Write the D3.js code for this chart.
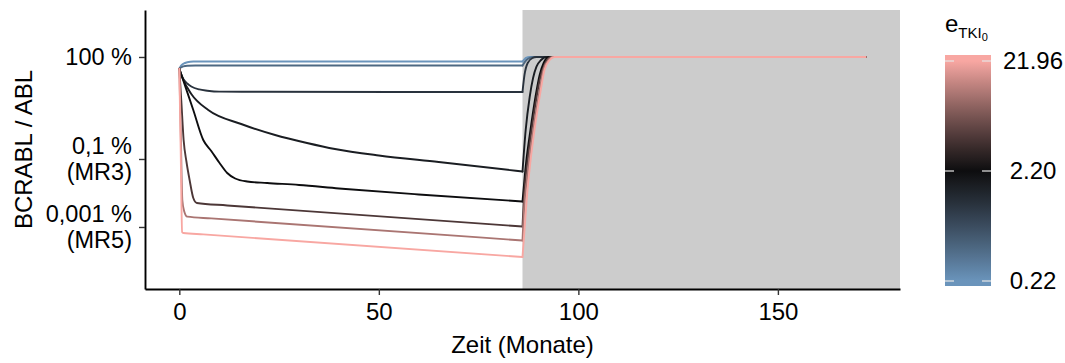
<!DOCTYPE html>
<html>
<head>
<meta charset="utf-8">
<script src="https://cdn.jsdelivr.net/npm/d3@7"></script>
<style>
  body { margin: 0; background: #fff; }
  svg { display: block; font-family: "Liberation Sans", Arial, sans-serif; }
</style>
</head>
<body>
<svg id="chart" width="1065" height="363"></svg>
<script>
// TKI efficacy of each simulated patient course
const eTKI = [0.2196, 0.4392, 1.098, 1.647, 2.196, 4.392, 10.98, 21.96];

// BCR-ABL/ABL ratio in percent, as [month, percent]; therapy stops at month 86
const courseE022 = [[0,45],[0.4,55],[1,63],[2,70],[3.5,73.5],[86,73.7],[86.5,86],[87,95],[87.8,99.5],[88.5,100],[172,100]];
const courseE044 = [[0,45],[0.5,50],[1,53],[2,55.5],[4,56.2],[86,56.2],[86.6,72],[87.3,87],[88,96],[89,100],[172,100]];
const courseE110 = [[0,45],[0.5,29.6],[1,22.5],[2,16.6],[3,13.6],[5,11.1],[7,10.2],[10,9.55],[20,9.45],[86,9.35],[86.5,29.6],[87.3,66.6],[88.5,93.5],[89.5,100],[172,100]];
const courseE165 = [[0,45],[1,21.1],[3,8.17],[7.25,2.76],[15.5,1.07],[24,0.508],[32,0.296],[39,0.197],[50,0.127],[65,0.0816],[86,0.0429],[86.8,0.713],[87.8,6.66],[88.65,24.1],[89.5,51.9],[90.65,81.6],[91.9,100],[172,100]];
const courseE220 = [[0,45],[1.5,13.6],[3.5,2.76],[6,0.362],[8,0.172],[10,0.0789],[12,0.0388],[14,0.0267],[17,0.0218],[22,0.0197],[30,0.0172],[40,0.0136],[60,0.00904],[86,0.00562],[86.9,0.0762],[88,0.713],[89.25,6.66],[90.3,29.6],[91.3,66.6],[92.6,100],[172,100]];
const courseE439 = [[0,45],[0.5,5.08],[1.08,0.362],[1.8,0.0816],[2.58,0.0241],[3.5,0.00713],[4.4,0.00508],[12,0.0043],[86,0.001035],[86.45,0.0107],[87.2,0.0762],[88.1,0.508],[89.2,3.88],[90.3,21.1],[91.6,62.2],[93.1,100],[172,100]];
const courseE1098 = [[0,45],[0.35,0.713],[0.75,0.00622],[1.2,0.00296],[2,0.00201],[8,0.00179],[86,0.000401],[86.45,0.00444],[87.1,0.0241],[87.8,0.131],[88.8,0.873],[90.1,7.63],[91.3,44.4],[92.6,84.4],[93.6,100],[172,100]];
const courseE2196 = [[0,45],[0.35,0.184],[0.7,0.000713],[1,0.000667],[6,0.000605],[86,0.000131],[86.5,0.000816],[87.1,0.00762],[87.95,0.0762],[89,0.713],[90.3,6.8],[91.5,41.5],[92.8,81.6],[94,100],[172,100]];

const courses = [courseE022, courseE044, courseE110, courseE165, courseE220, courseE439, courseE1098, courseE2196];

const stopMonth = 86;
const xTicks = [0, 50, 100, 150];
const yTicks = [100, 0.1, 0.001];
const yTickLabels = [["100 %"], ["0,1 %", "(MR3)"], ["0,001 %", "(MR5)"]];
const legendTicks = [0.2196, 2.196, 21.96];
const legendLabels = ["0.22", "2.20", "21.96"];

const svg = d3.select("#chart");
const panel = { left: 145, right: 900, top: 10, bottom: 289 };

const x = d3.scaleLinear().domain([-8.6, 180.6]).range([panel.left, panel.right]);
const y = d3.scaleLog().domain([Math.pow(10, -4.824), Math.pow(10, 3.382)]).range([panel.bottom, panel.top]);
const colour = d3.scaleLog()
  .domain([0.2196, 2.196, 21.96])
  .range(["#6a94bb", "#0d0d0f", "#f8a7a2"])
  .interpolate(d3.interpolateLab);

// shaded period after therapy stop
svg.append("rect")
  .attr("x", x(stopMonth))
  .attr("y", panel.top)
  .attr("width", panel.right - x(stopMonth))
  .attr("height", panel.bottom - panel.top)
  .attr("fill", "#cccccc");

// patient courses: therapy phase and relapse phase drawn as separate pieces
const line = d3.line()
  .x(d => x(d[0]))
  .y(d => y(d[1]))
  .curve(d3.curveMonotoneX);

const pieces = [];
courses.forEach((c, i) => {
  pieces.push({ i, pts: c.filter(d => d[0] <= stopMonth) });
  pieces.push({ i, pts: c.filter(d => d[0] >= stopMonth) });
});
pieces.sort((a, b) => a.i - b.i);

svg.append("g")
  .selectAll("path")
  .data(pieces)
  .join("path")
  .attr("d", d => line(d.pts))
  .attr("fill", "none")
  .attr("stroke", d => colour(eTKI[d.i]))
  .attr("stroke-width", 1.9)
  .attr("stroke-linejoin", "round")
  .attr("stroke-linecap", "round");

// axes
const xAxis = svg.append("g")
  .attr("transform", `translate(0,${panel.bottom})`)
  .call(d3.axisBottom(x).tickValues(xTicks).tickSize(6).tickSizeOuter(0).tickPadding(8));
const yAxis = svg.append("g")
  .attr("transform", `translate(${panel.left},0)`)
  .call(d3.axisLeft(y).tickValues(yTicks).tickSize(6).tickSizeOuter(0).tickFormat(() => ""));

[xAxis, yAxis].forEach(g => {
  g.select(".domain").attr("stroke", "#000").attr("stroke-width", 1.9);
  g.selectAll(".tick line").attr("stroke", "#333").attr("stroke-width", 1.4);
});
xAxis.selectAll(".tick text")
  .attr("font-size", 24).attr("fill", "#000")
  .attr("font-family", "Liberation Sans, Arial, sans-serif");

// multi-line y tick labels, one text element per line
const lineGap = 26;
yTicks.forEach((v, i) => {
  const lines = yTickLabels[i];
  lines.forEach((s, j) => {
    svg.append("text")
      .attr("text-anchor", "end")
      .attr("font-size", 23.5)
      .attr("fill", "#000")
      .attr("x", panel.left - 13)
      .attr("y", y(v) + (j - (lines.length - 1) / 2) * lineGap)
      .attr("dy", "0.35em")
      .text(s);
  });
});

// axis titles
svg.append("text")
  .attr("x", (panel.left + panel.right) / 2)
  .attr("y", 353)
  .attr("text-anchor", "middle")
  .attr("font-size", 24)
  .text("Zeit (Monate)");
svg.append("text")
  .attr("transform", `translate(32,${(panel.top + panel.bottom) / 2}) rotate(-90)`)
  .attr("text-anchor", "middle")
  .attr("font-size", 24)
  .text("BCRABL / ABL");

// colour legend
const bar = { left: 945, width: 46, top: 55, bottom: 286 };
const legendY = d3.scaleLog().domain([0.2196, 21.96]).range([281, 61]);

const defs = svg.append("defs");
const grad = defs.append("linearGradient")
  .attr("id", "eGrad")
  .attr("gradientUnits", "userSpaceOnUse")
  .attr("x1", 0).attr("x2", 0)
  .attr("y1", legendY(0.2196)).attr("y2", legendY(21.96));
d3.range(0, 1.0001, 0.05).forEach(p => {
  const v = Math.pow(10, Math.log10(0.2196) + p * 2);
  grad.append("stop").attr("offset", p).attr("stop-color", colour(v));
});

svg.append("rect")
  .attr("x", bar.left).attr("y", bar.top)
  .attr("width", bar.width).attr("height", bar.bottom - bar.top)
  .attr("fill", "url(#eGrad)");

legendTicks.forEach((v, i) => {
  const ty = legendY(v);
  [[bar.left, bar.left + 9], [bar.left + bar.width - 9, bar.left + bar.width]].forEach(([a, b]) => {
    svg.append("line")
      .attr("x1", a).attr("x2", b).attr("y1", ty).attr("y2", ty)
      .attr("stroke", "#e6e6e6").attr("stroke-width", 1.2);
  });
  svg.append("text")
    .attr("x", 1033).attr("y", ty).attr("dy", "0.35em")
    .attr("text-anchor", "middle")
    .attr("font-size", 24)
    .text(legendLabels[i]);
});

// legend title: e with subscript TKI with subscript 0
const title = svg.append("text").attr("x", 945).attr("y", 32).attr("font-size", 24);
title.append("tspan").text("e");
title.append("tspan").attr("font-size", 15).attr("dy", 6).text("TKI");
title.append("tspan").attr("font-size", 11).attr("dy", 3).text("0");
</script>
</body>
</html>
